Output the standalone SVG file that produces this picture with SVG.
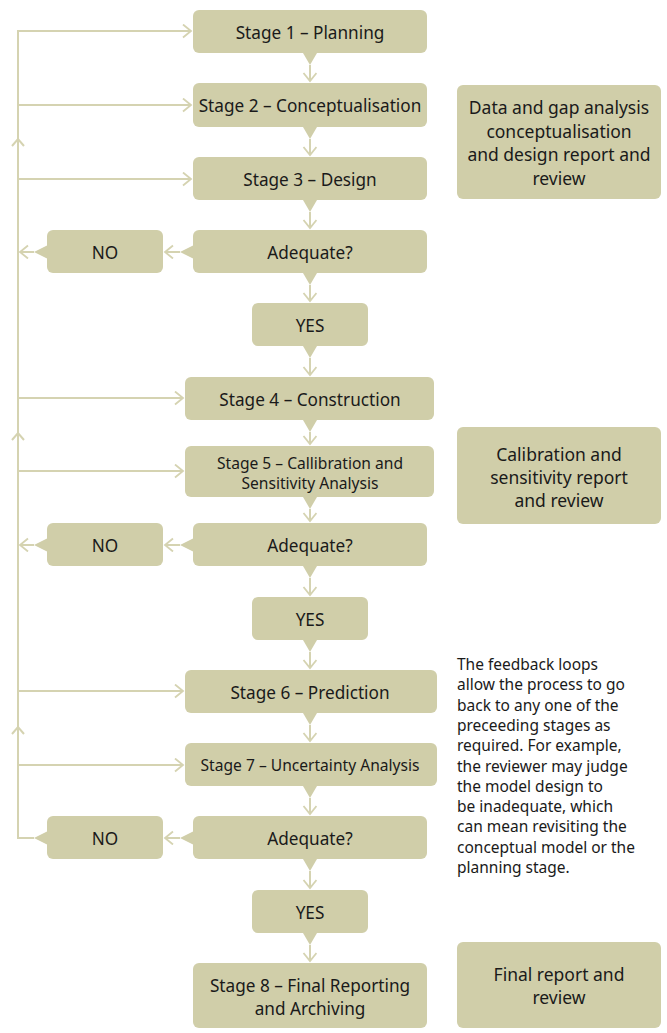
<svg xmlns="http://www.w3.org/2000/svg" width="667" height="1033" viewBox="0 0 667 1033">
<defs>
<style>
.box{fill:#d0cea9}
.ln{fill:none;stroke:#d5d3b1;stroke-width:2}
.t{font-family:"Noto Sans","Open Sans",sans-serif;font-size:17.2px;fill:#1a1a1a;text-anchor:middle}
.s{font-size:15.6px}
.side{font-size:17.5px}
.p{font-family:"Noto Sans","Open Sans",sans-serif;font-size:15.5px;fill:#1a1a1a}
</style>
<marker id="ah" markerUnits="userSpaceOnUse" markerWidth="12" markerHeight="16" refX="9" refY="7" orient="auto" viewBox="0 0 12 16">
<path d="M1,0.5 L9,7 L1,13.5" fill="none" stroke="#d5d3b1" stroke-width="1.8"/>
</marker>
</defs>
<rect width="667" height="1033" fill="#fff"/>

<g id="connectors">
<path class="ln" d="M34,838 H18 V31 H191" marker-end="url(#ah)"/>
<path class="ln" d="M18,105 H191" marker-end="url(#ah)"/>
<path class="ln" d="M18,179 H191" marker-end="url(#ah)"/>
<path class="ln" d="M18,398 H183" marker-end="url(#ah)"/>
<path class="ln" d="M18,471 H183" marker-end="url(#ah)"/>
<path class="ln" d="M18,691 H183" marker-end="url(#ah)"/>
<path class="ln" d="M18,765 H183" marker-end="url(#ah)"/>
<path class="ln" d="M12,146 L18,139 L24,146"/>
<path class="ln" d="M12,440 L18,433 L24,440"/>
<path class="ln" d="M12,734 L18,727 L24,734"/>
<path class="ln" d="M180,252 H165" marker-end="url(#ah)"/>
<path class="ln" d="M34,252 H20" marker-end="url(#ah)"/>
<path class="ln" d="M180,545 H165" marker-end="url(#ah)"/>
<path class="ln" d="M34,545 H20" marker-end="url(#ah)"/>
<path class="ln" d="M180,838 H165" marker-end="url(#ah)"/>
<path class="ln" d="M310,65 V81" marker-end="url(#ah)"/>
<path class="ln" d="M310,139 V155" marker-end="url(#ah)"/>
<path class="ln" d="M310,212 V228" marker-end="url(#ah)"/>
<path class="ln" d="M310,285 V301" marker-end="url(#ah)"/>
<path class="ln" d="M310,358 V375" marker-end="url(#ah)"/>
<path class="ln" d="M310,432 V444" marker-end="url(#ah)"/>
<path class="ln" d="M310,509 V521" marker-end="url(#ah)"/>
<path class="ln" d="M310,578 V595" marker-end="url(#ah)"/>
<path class="ln" d="M310,652 V668" marker-end="url(#ah)"/>
<path class="ln" d="M310,725 V741" marker-end="url(#ah)"/>
<path class="ln" d="M310,798 V814" marker-end="url(#ah)"/>
<path class="ln" d="M310,871 V888" marker-end="url(#ah)"/>
<path class="ln" d="M310,945 V961" marker-end="url(#ah)"/>
</g>

<g id="stage1">
<rect class="box" x="193" y="10" width="234" height="43" rx="6"/>
<path class="box" d="M303,53 L317,53 L310,65 Z"/>
<text class="t" x="310" y="39">Stage 1 – Planning</text>
</g>
<g id="stage2">
<rect class="box" x="193" y="83" width="234" height="44" rx="6"/>
<path class="box" d="M303,127 L317,127 L310,139 Z"/>
<text class="t" x="310" y="112">Stage 2 – Conceptualisation</text>
</g>
<g id="stage3">
<rect class="box" x="193" y="157" width="234" height="43" rx="6"/>
<path class="box" d="M303,200 L317,200 L310,212 Z"/>
<text class="t" x="310" y="186">Stage 3 – Design</text>
</g>
<g id="adequate1">
<rect class="box" x="193" y="230" width="234" height="43" rx="6"/>
<path class="box" d="M303,273 L317,273 L310,285 Z"/>
<path class="box" d="M194,245 L194,259 L180,252 Z"/>
<text class="t" x="310" y="259">Adequate?</text>
</g>
<g id="no1">
<rect class="box" x="47" y="230" width="116" height="43" rx="6"/>
<path class="box" d="M48,245 L48,259 L34,252 Z"/>
<text class="t" x="105" y="259">NO</text>
</g>
<g id="yes1">
<rect class="box" x="252" y="303" width="116" height="43" rx="6"/>
<path class="box" d="M303,346 L317,346 L310,358 Z"/>
<text class="t" x="310" y="332">YES</text>
</g>
<g id="stage4">
<rect class="box" x="185" y="377" width="249" height="43" rx="6"/>
<path class="box" d="M303,420 L317,420 L310,432 Z"/>
<text class="t" x="310" y="406">Stage 4 – Construction</text>
</g>
<g id="stage5">
<rect class="box" x="185" y="446" width="249" height="51" rx="6"/>
<path class="box" d="M303,497 L317,497 L310,509 Z"/>
<text class="t s" x="310" y="468.5">Stage 5 – Callibration and</text>
<text class="t s" x="310" y="488.5">Sensitivity Analysis</text>
</g>
<g id="adequate2">
<rect class="box" x="193" y="523" width="234" height="43" rx="6"/>
<path class="box" d="M303,566 L317,566 L310,578 Z"/>
<path class="box" d="M194,538 L194,552 L180,545 Z"/>
<text class="t" x="310" y="552">Adequate?</text>
</g>
<g id="no2">
<rect class="box" x="47" y="523" width="116" height="43" rx="6"/>
<path class="box" d="M48,538 L48,552 L34,545 Z"/>
<text class="t" x="105" y="552">NO</text>
</g>
<g id="yes2">
<rect class="box" x="252" y="597" width="116" height="43" rx="6"/>
<path class="box" d="M303,640 L317,640 L310,652 Z"/>
<text class="t" x="310" y="626">YES</text>
</g>
<g id="stage6">
<rect class="box" x="185" y="670" width="252" height="43" rx="6"/>
<path class="box" d="M303,713 L317,713 L310,725 Z"/>
<text class="t" x="310" y="699">Stage 6 – Prediction</text>
</g>
<g id="stage7">
<rect class="box" x="185" y="743" width="252" height="43" rx="6"/>
<path class="box" d="M303,786 L317,786 L310,798 Z"/>
<text class="t s" x="310" y="771">Stage 7 – Uncertainty Analysis</text>
</g>
<g id="adequate3">
<rect class="box" x="193" y="816" width="234" height="43" rx="6"/>
<path class="box" d="M303,859 L317,859 L310,871 Z"/>
<path class="box" d="M194,831 L194,845 L180,838 Z"/>
<text class="t" x="310" y="845">Adequate?</text>
</g>
<g id="no3">
<rect class="box" x="47" y="816" width="116" height="43" rx="6"/>
<path class="box" d="M48,831 L48,845 L34,838 Z"/>
<text class="t" x="105" y="845">NO</text>
</g>
<g id="yes3">
<rect class="box" x="252" y="890" width="116" height="43" rx="6"/>
<path class="box" d="M303,933 L317,933 L310,945 Z"/>
<text class="t" x="310" y="919">YES</text>
</g>
<g id="stage8">
<rect class="box" x="193" y="963" width="234" height="65" rx="6"/>
<text class="t" x="310" y="992">Stage 8 – Final Reporting</text>
<text class="t" x="310" y="1015">and Archiving</text>
</g>

<g id="report1">
<rect class="box" x="457" y="85" width="204" height="114" rx="6"/>
<text class="t side" x="559" y="114">Data and gap analysis</text>
<text class="t side" x="559" y="137.5">conceptualisation</text>
<text class="t side" x="559" y="161">and design report and</text>
<text class="t side" x="559" y="184.5">review</text>
</g>
<g id="report2">
<rect class="box" x="457" y="427" width="204" height="97" rx="6"/>
<text class="t side" x="559" y="461">Calibration and</text>
<text class="t side" x="559" y="484">sensitivity report</text>
<text class="t side" x="559" y="507">and review</text>
</g>
<g id="report3">
<rect class="box" x="457" y="942" width="204" height="86" rx="6"/>
<text class="t side" x="559" y="981">Final report and</text>
<text class="t side" x="559" y="1004">review</text>
</g>

<g id="note">
<text class="p" x="457" y="670">The feedback loops</text>
<text class="p" x="457" y="690.3">allow the process to go</text>
<text class="p" x="457" y="710.6">back to any one of the</text>
<text class="p" x="457" y="730.9">preceeding stages as</text>
<text class="p" x="457" y="751.2">required. For example,</text>
<text class="p" x="457" y="771.5">the reviewer may judge</text>
<text class="p" x="457" y="791.8">the model design to</text>
<text class="p" x="457" y="812.1">be inadequate, which</text>
<text class="p" x="457" y="832.4">can mean revisiting the</text>
<text class="p" x="457" y="852.7">conceptual model or the</text>
<text class="p" x="457" y="873">planning stage.</text>
</g>
</svg>
